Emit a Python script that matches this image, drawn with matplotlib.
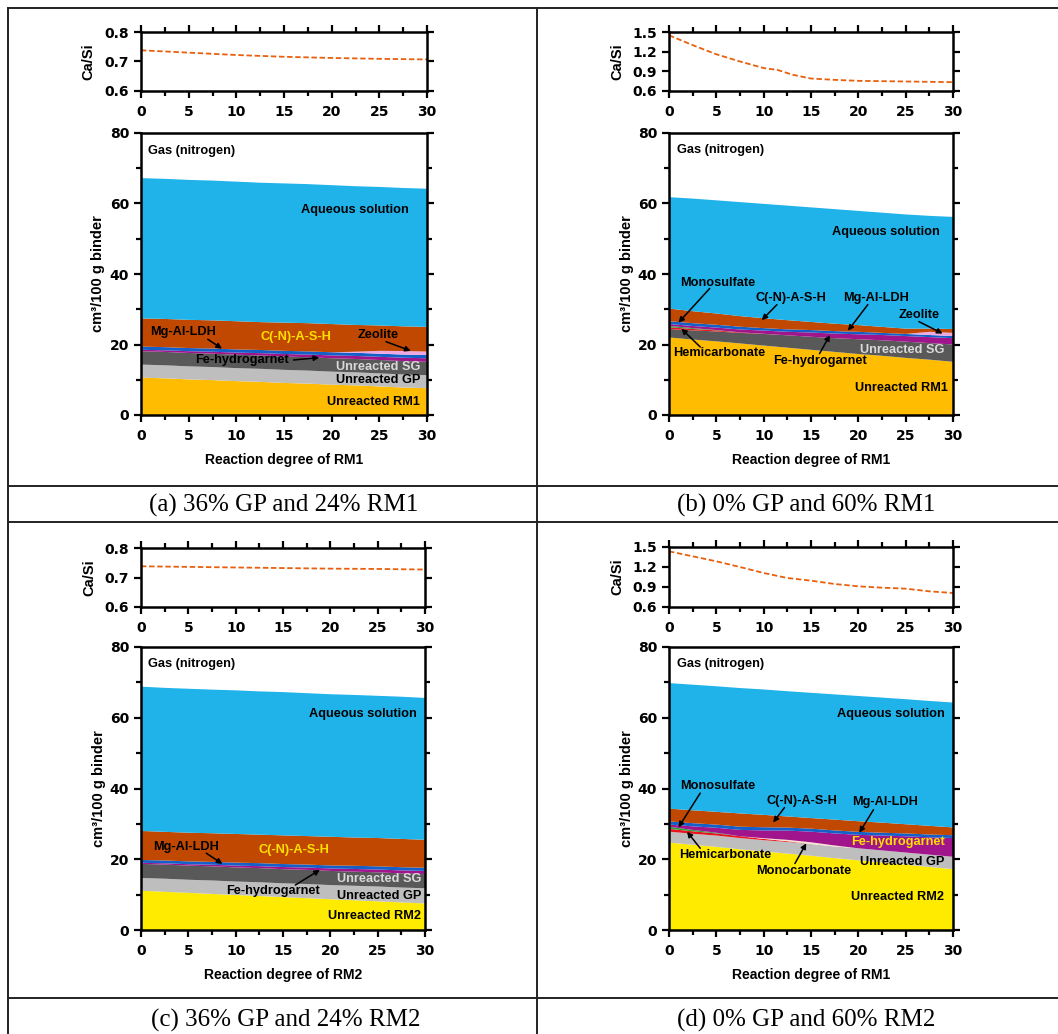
import matplotlib.pyplot as plt
from matplotlib.lines import Line2D
from matplotlib.ticker import MultipleLocator

plt.rcParams['font.family'] = ['Liberation Sans', 'DejaVu Sans']
plt.rcParams['font.weight'] = 'bold'

# ---- daten ----
x = [0, 2.5, 5, 7.5, 10, 12.5, 15, 17.5, 20, 22.5, 25, 27.5, 30]

# (a) 36% GP und 24% RM1
rm1_a = [10.6, 10.4, 10.1, 9.9, 9.6, 9.4, 9.1, 8.9, 8.6, 8.4, 8.1, 7.8, 7.6]
gp_a = [3.7, 3.7, 3.7, 3.7, 3.7, 3.7, 3.7, 3.7, 3.7, 3.7, 3.7, 3.7, 3.7]
sg_a = [3.8, 3.8, 3.8, 3.8, 3.8, 3.8, 3.8, 3.8, 3.8, 3.8, 3.8, 3.8, 3.8]
fehg_a = [0.4, 0.45, 0.5, 0.55, 0.6, 0.65, 0.7, 0.75, 0.8, 0.85, 0.9, 0.95, 1.0]
ldh_a = [0.9, 0.9, 0.9, 0.9, 0.9, 0.9, 0.9, 0.9, 0.9, 0.9, 0.9, 0.9, 0.9]
zeo_a = [0, 0, 0, 0, 0, 0, 0, 0, 0, 0.3, 0.8, 1.0, 1.0]
cash_a = [8.0, 8.0, 8.0, 8.0, 8.0, 7.9, 8.0, 8.0, 8.0, 7.6, 7.2, 7.0, 7.0]
aq_a = [39.8, 39.75, 39.7, 39.65, 39.6, 39.55, 39.5, 39.45, 39.4, 39.35, 39.3, 39.25, 39.2]

# (b) 0% GP und 60% RM1
rm1_b = [22.0, 21.4, 20.9, 20.3, 19.7, 19.1, 18.5, 17.9, 17.3, 16.8, 16.2, 15.7, 15.1]
sg_b = [2.4, 2.6, 2.8, 3.0, 3.3, 3.5, 3.7, 3.9, 4.2, 4.4, 4.6, 4.7, 4.9]
hemi_b = [0.5, 0.4, 0.3, 0.15, 0.05, 0, 0, 0, 0, 0, 0, 0, 0]
monos_b = [0.4, 0.25, 0.1, 0, 0, 0, 0, 0, 0, 0, 0, 0, 0]
fehg_b = [0.5, 0.6, 0.7, 0.8, 0.9, 1.0, 1.2, 1.3, 1.4, 1.5, 1.6, 1.7, 1.8]
ldh_b = [0.8, 0.8, 0.8, 0.8, 0.7, 0.7, 0.7, 0.7, 0.7, 0.6, 0.6, 0.6, 0.6]
zeo_b = [0, 0, 0, 0, 0, 0, 0, 0, 0, 0, 0, 0.9, 0.9]
cash_b = [3.6, 3.4, 3.2, 3.0, 2.8, 2.6, 2.3, 2.1, 1.9, 1.7, 1.5, 0.9, 1.1]
aq_b = [31.6, 31.95, 32.1, 32.35, 32.45, 32.5, 32.5, 32.5, 32.4, 32.4, 32.4, 32.0, 31.8]

# (c) 36% GP und 24% RM2
rm2_c = [11.1, 10.8, 10.5, 10.2, 9.9, 9.6, 9.3, 9.0, 8.7, 8.4, 8.1, 7.8, 7.5]
gp_c = [3.6, 3.7, 3.7, 3.8, 3.8, 3.9, 3.9, 4.0, 4.0, 4.1, 4.2, 4.2, 4.3]
sg_c = [4.0, 4.0, 4.0, 4.0, 4.0, 4.0, 4.0, 4.0, 4.0, 4.0, 4.0, 4.0, 4.0]
fehg_c = [0.3, 0.35, 0.4, 0.45, 0.5, 0.55, 0.6, 0.65, 0.7, 0.75, 0.8, 0.85, 0.9]
ldh_c = [0.8, 0.8, 0.8, 0.8, 0.85, 0.85, 0.85, 0.85, 0.85, 0.9, 0.9, 0.9, 0.9]
cash_c = [8.2, 8.1, 8.1, 8.1, 8.1, 8.05, 8.1, 8.05, 8.1, 8.0, 8.0, 8.0, 7.9]
aq_c = [40.8, 40.7, 40.7, 40.6, 40.6, 40.5, 40.5, 40.4, 40.3, 40.3, 40.2, 40.2, 40.1]

# (d) 0% GP und 60% RM2
rm2_d = [24.7, 24.1, 23.5, 22.8, 22.2, 21.6, 21.0, 20.3, 19.7, 19.1, 18.5, 17.8, 17.2]
gp_d = [3.1, 3.1, 3.2, 3.2, 3.2, 3.3, 3.3, 3.3, 3.4, 3.4, 3.4, 3.5, 3.5]
hemi_d = [0.8, 0.7, 0.6, 0.5, 0.35, 0.2, 0, 0, 0, 0, 0, 0, 0]
monoc_d = [0, 0, 0, 0, 0.2, 0.4, 0.5, 0.3, 0, 0, 0, 0, 0]
monos_d = [0.6, 0.4, 0.2, 0, 0, 0, 0, 0, 0, 0, 0, 0, 0]
fehg_d = [0.6, 1.0, 1.4, 1.8, 2.2, 2.6, 3.0, 3.4, 3.8, 4.2, 4.6, 4.9, 5.3]
ldh_d = [0.9, 0.9, 0.9, 0.9, 0.9, 0.85, 0.85, 0.85, 0.85, 0.8, 0.8, 0.8, 0.8]
cash_d = [3.6, 3.65, 3.6, 3.75, 3.5, 3.15, 3.0, 3.05, 3.0, 2.85, 2.6, 2.45, 2.2]
aq_d = [35.5, 35.5, 35.5, 35.45, 35.45, 35.4, 35.4, 35.4, 35.4, 35.35, 35.35, 35.3, 35.3]

# Ca/Si Verhältnis
x_ca_a = [0, 5, 10, 15, 20, 25, 30]
ca_a = [0.738, 0.730, 0.722, 0.716, 0.712, 0.709, 0.707]
x_ca_b = [0, 2.5, 5, 7.5, 10, 11.5, 13, 15, 17.5, 20, 25, 30]
ca_b = [1.45, 1.30, 1.16, 1.05, 0.95, 0.92, 0.85, 0.79, 0.77, 0.755, 0.745, 0.735]
x_ca_c = [0, 5, 10, 15, 20, 25, 30]
ca_c = [0.738, 0.736, 0.734, 0.732, 0.730, 0.729, 0.727]
x_ca_d = [0, 2.5, 5, 7.5, 10, 12.5, 15, 17.5, 20, 22.5, 25, 27.5, 30]
ca_d = [1.435, 1.36, 1.285, 1.20, 1.11, 1.035, 0.995, 0.945, 0.91, 0.89, 0.875, 0.835, 0.81]

captions = ["(a) 36% GP and 24% RM1", "(b) 0% GP and 60% RM1",
            "(c) 36% GP and 24% RM2", "(d) 0% GP and 60% RM2"]

# Farben
c_aq = '#1FB3EA'
c_cash = '#C04800'
c_ldh = '#1560C8'
c_zeo = '#F0A8E0'
c_fehg = '#A0148C'
c_sg = '#595959'
c_gp = '#BEBEBE'
c_rm1 = '#FFBC00'
c_rm2 = '#FFEB00'
c_monos = '#2E9E3E'
c_hemi = '#E8141E'
c_monoc = '#FCE0D0'
c_line = '#E8600E'

W, H = 1058, 1034
fig = plt.figure(figsize=(W / 100, H / 100), dpi=100)


def rect(x0, y0, x1, y1):
    return [x0 / W, 1 - y1 / H, (x1 - x0) / W, (y1 - y0) / H]


def style(ax):
    for s in ax.spines.values():
        s.set_linewidth(1.8)
    ax.tick_params(which='both', direction='out', width=1.6)
    ax.tick_params(which='major', length=5)
    ax.tick_params(which='minor', length=3.5)
    for t in ax.get_xticklabels() + ax.get_yticklabels():
        t.set_fontfamily('DejaVu Sans')
        t.set_fontsize(10)
        t.set_fontweight('bold')


def ca_plot(box, xs, ys, ylim, yticks):
    ax = fig.add_axes(rect(*box))
    ax.plot(xs, ys, color=c_line, lw=1.3, ls=(0, (3, 1.5)))
    ax.set_xlim(0, 30)
    ax.set_ylim(*ylim)
    ax.set_xticks(range(0, 31, 5))
    ax.xaxis.set_minor_locator(MultipleLocator(2.5))
    ax.set_yticks(yticks)
    style(ax)
    ax.tick_params(which='both', top=True, right=True, labelright=False)
    ax.tick_params(axis='x', pad=5)
    ax.set_ylabel('Ca/Si', fontsize=10.5, fontweight='bold')
    ax.yaxis.set_label_coords(-0.158, 0.5)
    return ax


def main_plot(box, layers, colors, xlabel):
    ax = fig.add_axes(rect(*box))
    ax.stackplot(x, *layers, colors=colors, lw=0)
    ax.set_xlim(0, 30)
    ax.set_ylim(0, 80)
    ax.set_xticks(range(0, 31, 5))
    ax.xaxis.set_minor_locator(MultipleLocator(2.5))
    ax.set_yticks([0, 20, 40, 60, 80])
    ax.yaxis.set_minor_locator(MultipleLocator(10))
    style(ax)
    ax.tick_params(which='both', right=True, top=False, labelright=False)
    ax.tick_params(axis='x', pad=5)
    ax.set_ylabel('cm³/100 g binder', fontsize=10.5, fontweight='bold')
    ax.yaxis.set_label_coords(-0.125, 0.5)
    ax.set_xlabel(xlabel, fontsize=10, fontweight='bold')
    ax.xaxis.set_label_coords(0.5, -0.135)
    return ax


def label(ax, t, xy, ha='center', color='black', arrow=None):
    ax.text(xy[0], xy[1], t, ha=ha, va='center', fontsize=9.2,
            fontweight='bold', color=color)
    if arrow:
        ax.annotate('', xy=arrow[1], xytext=arrow[0],
                    arrowprops=dict(arrowstyle='-|>', color='black', lw=1.1,
                                    mutation_scale=8, shrinkA=0, shrinkB=0))


# (a)
ca_plot((141, 32, 427, 91), x_ca_a, ca_a, (0.6, 0.8), [0.6, 0.7, 0.8])
ax = main_plot((141, 133, 427, 415),
               [rm1_a, gp_a, sg_a, fehg_a, ldh_a, zeo_a, cash_a, aq_a],
               [c_rm1, c_gp, c_sg, c_fehg, c_ldh, c_zeo, c_cash, c_aq],
               'Reaction degree of RM1')
label(ax, 'Gas (nitrogen)', (0.7, 75.0), ha='left')
label(ax, 'Aqueous solution', (22.4, 58.2))
label(ax, 'Mg-Al-LDH', (4.4, 23.6), arrow=((7.0, 21.5), (8.5, 18.8)))
label(ax, 'C(-N)-A-S-H', (16.2, 22.2), color='#FFE000')
label(ax, 'Zeolite', (24.9, 22.7), arrow=((25.7, 20.8), (28.3, 18.2)))
label(ax, 'Fe-hydrogarnet', (10.6, 15.6), arrow=((16.0, 15.6), (18.7, 16.3)))
label(ax, 'Unreacted SG', (29.3, 13.7), ha='right', color='#D9D9D9')
label(ax, 'Unreacted GP', (29.3, 9.9), ha='right')
label(ax, 'Unreacted RM1', (29.3, 3.8), ha='right')

# (b)
ca_plot((669, 32, 953, 91), x_ca_b, ca_b, (0.6, 1.5), [0.6, 0.9, 1.2, 1.5])
ax = main_plot((669, 133, 953, 415),
               [rm1_b, sg_b, hemi_b, monos_b, fehg_b, ldh_b, zeo_b, cash_b, aq_b],
               [c_rm1, c_sg, c_hemi, c_monos, c_fehg, c_ldh, c_zeo, c_cash, c_aq],
               'Reaction degree of RM1')
label(ax, 'Gas (nitrogen)', (0.8, 75.2), ha='left')
label(ax, 'Aqueous solution', (22.9, 51.9))
label(ax, 'Monosulfate', (5.2, 37.5), arrow=((4.3, 35.9), (1.0, 26.2)))
label(ax, 'C(-N)-A-S-H', (12.9, 33.3), arrow=((11.4, 31.3), (9.8, 26.9)))
label(ax, 'Mg-Al-LDH', (21.9, 33.3), arrow=((21.0, 31.3), (18.9, 23.9)))
label(ax, 'Zeolite', (26.4, 28.3), arrow=((26.4, 26.5), (28.9, 23.1)))
label(ax, 'Hemicarbonate', (5.3, 17.7), arrow=((3.3, 19.3), (1.3, 24.5)))
label(ax, 'Fe-hydrogarnet', (15.9, 15.4), arrow=((15.9, 17.4), (17.0, 22.7)))
label(ax, 'Unreacted SG', (29.1, 18.4), ha='right', color='#D9D9D9')
label(ax, 'Unreacted RM1', (29.5, 7.6), ha='right')

# (c)
ca_plot((141, 548, 425, 607), x_ca_c, ca_c, (0.6, 0.8), [0.6, 0.7, 0.8])
ax = main_plot((141, 647, 425, 930),
               [rm2_c, gp_c, sg_c, fehg_c, ldh_c, cash_c, aq_c],
               [c_rm2, c_gp, c_sg, c_fehg, c_ldh, c_cash, c_aq],
               'Reaction degree of RM2')
label(ax, 'Gas (nitrogen)', (0.7, 75.3), ha='left')
label(ax, 'Aqueous solution', (23.4, 61.1))
label(ax, 'Mg-Al-LDH', (4.8, 23.6), arrow=((6.9, 21.7), (8.6, 18.7)))
label(ax, 'C(-N)-A-S-H', (16.2, 22.6), color='#FFE000')
label(ax, 'Fe-hydrogarnet', (13.9, 11.1), arrow=((16.3, 12.7), (18.9, 17.0)))
label(ax, 'Unreacted SG', (29.6, 14.5), ha='right', color='#D9D9D9')
label(ax, 'Unreacted GP', (29.6, 9.6), ha='right')
label(ax, 'Unreacted RM2', (29.6, 4.0), ha='right')

# (d)
ca_plot((669, 547, 953, 607), x_ca_d, ca_d, (0.6, 1.5), [0.6, 0.9, 1.2, 1.5])
ax = main_plot((669, 647, 953, 930),
               [rm2_d, gp_d, hemi_d, monoc_d, monos_d, fehg_d, ldh_d, cash_d, aq_d],
               [c_rm2, c_gp, c_hemi, c_monoc, c_monos, c_fehg, c_ldh, c_cash, c_aq],
               'Reaction degree of RM1')
label(ax, 'Gas (nitrogen)', (0.8, 75.3), ha='left')
label(ax, 'Aqueous solution', (23.4, 61.1))
label(ax, 'Monosulfate', (5.2, 40.8), arrow=((3.3, 38.7), (1.0, 29.0)))
label(ax, 'C(-N)-A-S-H', (14.0, 36.5), arrow=((12.2, 34.6), (11.0, 30.4)))
label(ax, 'Mg-Al-LDH', (22.8, 36.3), arrow=((21.6, 34.0), (20.1, 27.5)))
label(ax, 'Fe-hydrogarnet', (29.1, 25.0), ha='right', color='#FFE000')
label(ax, 'Hemicarbonate', (5.9, 21.2), arrow=((3.3, 23.1), (1.9, 27.8)))
label(ax, 'Monocarbonate', (14.2, 16.7), arrow=((13.3, 18.8), (14.5, 24.5)))
label(ax, 'Unreacted GP', (29.1, 19.3), ha='right')
label(ax, 'Unreacted RM2', (29.1, 9.4), ha='right')

# Tabellenlinien
def hline(y):
    fig.add_artist(Line2D([8 / W, 1], [1 - y / H, 1 - y / H], color='#222222', lw=1.4))


def vline(xp):
    fig.add_artist(Line2D([xp / W, xp / W], [1 - 8 / H, 0], color='#222222', lw=1.4))


for yy in [8, 486, 522, 998]:
    hline(yy)
for xx in [8, 537]:
    vline(xx)

# Untertitel
cap_pos = [(284, 505), (806, 505), (286, 1020), (806, 1020)]
for t, (cx, cy) in zip(captions, cap_pos):
    fig.text(cx / W, 1 - cy / H, t, ha='center', va='center', fontsize=18,
             family='Liberation Serif', fontweight='normal')

fig.savefig('out.png', dpi=100)
